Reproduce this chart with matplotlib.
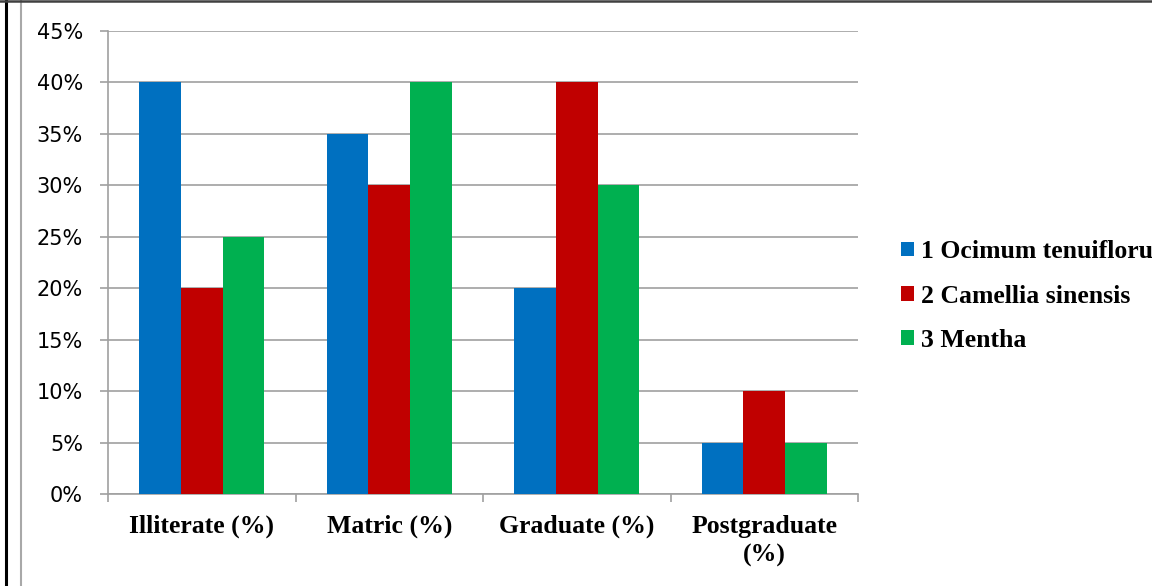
import matplotlib
matplotlib.use("Agg")
import matplotlib.pyplot as plt
from matplotlib.lines import Line2D
from matplotlib.ticker import FixedLocator, PercentFormatter
import numpy as np

categories = ["Illiterate (%)", "Matric (%)", "Graduate (%)", "Postgraduate\n(%)"]
series_names = ["1 Ocimum tenuiflorum", "2 Camellia sinensis", "3 Mentha"]
ocimum = [40, 35, 20, 5]
camellia = [20, 30, 40, 10]
mentha = [25, 40, 30, 5]
colors = ["#0070C0", "#C00000", "#00B050"]
yticks = [0, 5, 10, 15, 20, 25, 30, 35, 40, 45]

W, H = 1152, 586
fig = plt.figure(figsize=(W / 100, H / 100), dpi=100)
ax = fig.add_axes([108 / W, (H - 494) / H, (858 - 108) / W, (494 - 31) / H])

centers = np.arange(len(categories)) + 0.5
bw = 0.222
handles = []
for i, (vals, c, name) in enumerate(zip([ocimum, camellia, mentha], colors, series_names)):
    b = ax.bar(centers + (i - 1) * bw, vals, width=bw, color=c, label=name, zorder=3)
    handles.append(b)

ax.set_xlim(0, len(categories))
ax.set_ylim(0, 45)
ax.set_yticks(yticks)
ax.yaxis.set_major_formatter(PercentFormatter(decimals=0))
ax.grid(axis="y", color="#A0A0A0", linewidth=1.2, zorder=0)
ax.set_axisbelow(True)

for s in ["top", "right"]:
    ax.spines[s].set_visible(False)
for s in ["left", "bottom"]:
    ax.spines[s].set_color("#A0A0A0")
    ax.spines[s].set_linewidth(1.2)

ax.tick_params(axis="y", length=6, width=1.2, color="#A0A0A0", pad=12,
               labelsize=15, labelcolor="black")
for lab in ax.get_yticklabels():
    lab.set_fontfamily("DejaVu Sans")

ax.xaxis.set_major_locator(FixedLocator(np.arange(len(categories) + 1)))
ax.xaxis.set_minor_locator(FixedLocator(centers))
ax.set_xticklabels([""] * (len(categories) + 1))
ax.set_xticklabels(categories, minor=True)
ax.tick_params(axis="x", which="major", length=6, width=1.2, color="#A0A0A0", direction="out")
ax.tick_params(axis="x", which="minor", length=0, pad=15)
for lab in ax.get_xticklabels(minor=True):
    lab.set_fontfamily("Liberation Serif")
    lab.set_fontweight("bold")
    lab.set_fontsize(18.5)
    lab.set_linespacing(1.3)

fs = 18.5
leg = fig.legend(handles=handles, labels=series_names, loc="upper left",
                 bbox_to_anchor=(891 / W, (H - 230) / H), frameon=False,
                 prop={"family": "Liberation Serif", "weight": "bold", "size": fs},
                 handlelength=0.5, handleheight=0.5, handletextpad=0.25,
                 labelspacing=0.83, borderaxespad=0)

# page frame lines
fig.add_artist(Line2D([6 / W, 6 / W], [0, 1], transform=fig.transFigure, color="black", linewidth=2.2))
fig.add_artist(Line2D([20.5 / W, 20.5 / W], [0, 1], transform=fig.transFigure, color="#A8A8A8", linewidth=1.5))
fig.add_artist(Line2D([0, 1], [1 - 1 / H, 1 - 1 / H], transform=fig.transFigure, color="#404040", linewidth=1.8))

fig.savefig("out.png", dpi=100)
